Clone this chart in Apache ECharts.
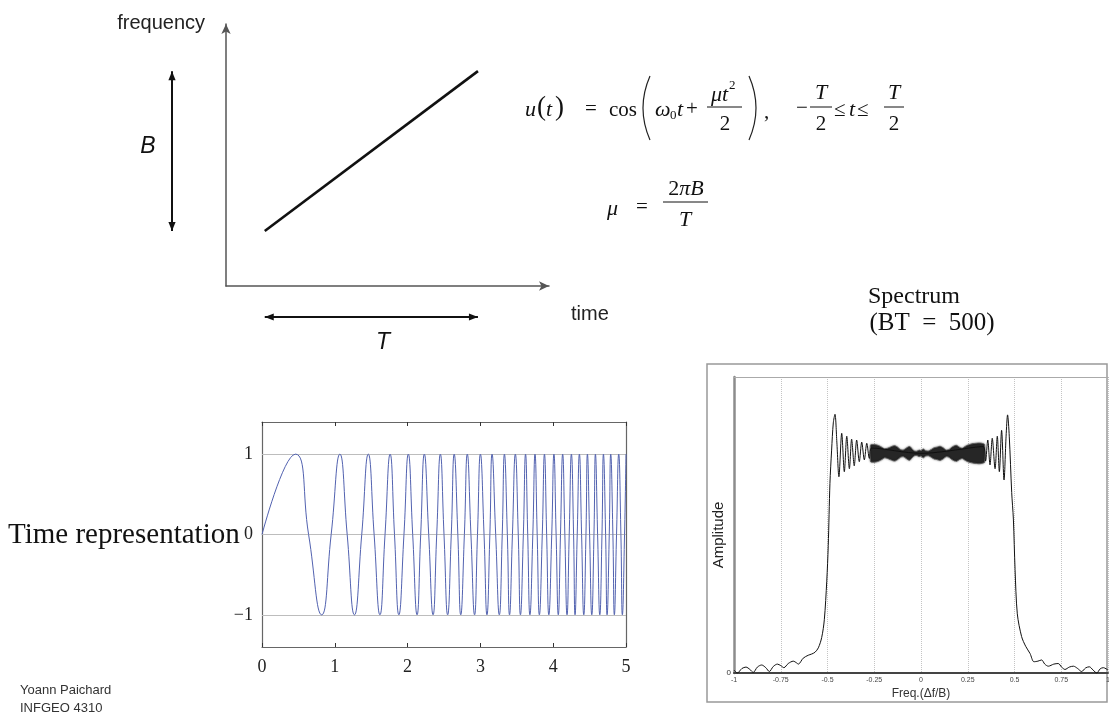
<!DOCTYPE html>
<html>
<head>
<meta charset="utf-8">
<title>Linear chirp</title>
<script src="https://cdn.jsdelivr.net/npm/echarts@6/dist/echarts.min.js"></script>
<style>
html, body { margin: 0; padding: 0; background: #fff; }
#chart { width: 1109px; height: 718px; }
</style>
</head>
<body>
<div id="chart"></div>
<script>
// sketch: frequency rising linearly over the pulse
const sweepTime = [1.2, 7.8];
const sweepFreq = [2.1, 8.2];

// time representation: extrema and zero crossings of the chirp
const chirpTime = [0, 0.46, 0.64, 0.82, 0.95, 1.07, 1.17, 1.27, 1.37, 1.46, 1.54,
  1.62, 1.69, 1.76, 1.82, 1.88, 1.95, 2.01, 2.07, 2.13, 2.18,
  2.23, 2.29, 2.35, 2.40, 2.45, 2.50, 2.55, 2.60, 2.64, 2.69,
  2.73, 2.78, 2.82, 2.87, 2.92, 2.96, 3.00, 3.05, 3.09, 3.13,
  3.16, 3.21, 3.26, 3.30, 3.33, 3.37, 3.40, 3.44, 3.48, 3.52,
  3.55, 3.59, 3.62, 3.65, 3.68, 3.72, 3.75, 3.78, 3.81, 3.85,
  3.88, 3.91, 3.94, 3.98, 4.01, 4.04, 4.07, 4.10, 4.13, 4.16,
  4.19, 4.22, 4.25, 4.28, 4.30, 4.33, 4.36, 4.39, 4.42, 4.45,
  4.47, 4.50, 4.53, 4.56, 4.58, 4.61, 4.64, 4.67, 4.69, 4.72,
  4.74, 4.77, 4.79, 4.82, 4.84, 4.87, 4.90, 4.93, 4.95, 4.98, 5.00];
const chirpValue = [0, 1, 0, -1, 0, 1, 0, -1, 0, 1, 0,
  -1, 0, 1, 0, -1, 0, 1, 0, -1, 0,
  1, 0, -1, 0, 1, 0, -1, 0, 1, 0,
  -1, 0, 1, 0, -1, 0, 1, 0, -1, 0,
  1, 0, -1, 0, 1, 0, -1, 0, 1, 0,
  -1, 0, 1, 0, -1, 0, 1, 0, -1, 0,
  1, 0, -1, 0, 1, 0, -1, 0, 1, 0,
  -1, 0, 1, 0, -1, 0, 1, 0, -1, 0,
  1, 0, -1, 0, 1, 0, -1, 0, 1, 0,
  -1, 0, 1, 0, -1, 0, 1, 0, -1, 0, 1];
const chirpTicks = [-1, 0, 1];

// spectrum (BT = 500)
const specFreq = [-1, -0.982, -0.958, -0.936, -0.915, -0.897, -0.875, -0.852, -0.83, -0.811,
  -0.79, -0.768, -0.75, -0.733, -0.71, -0.683, -0.665, -0.656, -0.63, -0.603,
  -0.585, -0.567, -0.549, -0.531, -0.517, -0.504, -0.496, -0.487, -0.478, -0.469,
  -0.46, -0.45, -0.439, -0.424, -0.41, -0.397, -0.383, -0.371, -0.357, -0.344,
  -0.33, -0.317, -0.303, -0.29, -0.276, -0.264, 0, 0.333, 0.345, 0.357,
  0.369, 0.381, 0.396, 0.408, 0.419, 0.431, 0.444, 0.455, 0.463, 0.472,
  0.485, 0.494, 0.503, 0.515, 0.538, 0.56, 0.583, 0.604, 0.625, 0.645,
  0.662, 0.681, 0.71, 0.734, 0.752, 0.77, 0.793, 0.815, 0.838, 0.859,
  0.88, 0.9, 0.92, 0.94, 0.958, 0.975, 1];
const specAmp = [0.01, 0, 0.015, 0.02, 0.012, 0.002, 0.02, 0.027, 0.018, 0.005,
  0.022, 0.03, 0.025, 0.018, 0.032, 0.04, 0.034, 0.03, 0.05, 0.06,
  0.064, 0.07, 0.085, 0.12, 0.18, 0.31, 0.43, 0.64, 0.753, 0.845,
  0.874, 0.78, 0.663, 0.81, 0.68, 0.80, 0.69, 0.79, 0.70, 0.787,
  0.714, 0.78, 0.72, 0.776, 0.725, 0.76, 0.742, 0.765, 0.716, 0.787,
  0.703, 0.793, 0.69, 0.80, 0.68, 0.82, 0.652, 0.80, 0.872, 0.80,
  0.61, 0.52, 0.35, 0.20, 0.123, 0.09, 0.066, 0.038, 0.04, 0.044,
  0.03, 0.023, 0.03, 0.032, 0.02, 0.012, 0.02, 0.023, 0.015, 0.005,
  0.017, 0.021, 0.01, 0, 0.014, 0.018, 0.01];
// dense ripple in the pass band: upper / lower envelope
const bandFreq = [-0.27, -0.255, -0.24, -0.225, -0.21, -0.195, -0.18, -0.165, -0.15, -0.139,
  -0.125, -0.11, -0.095, -0.08, -0.068, -0.059, -0.048, -0.035, -0.022, -0.01,
  0, 0.012, 0.025, 0.04, 0.055, 0.07, 0.085, 0.102, 0.118, 0.135,
  0.15, 0.165, 0.18, 0.191, 0.205, 0.22, 0.235, 0.25, 0.265, 0.28,
  0.295, 0.31, 0.325, 0.34];
const bandTop = [0.770, 0.772, 0.771, 0.768, 0.763, 0.757, 0.759, 0.763, 0.767, 0.768,
  0.763, 0.755, 0.753, 0.759, 0.764, 0.765, 0.757, 0.750, 0.749, 0.753,
  0.751, 0.757, 0.751, 0.750, 0.755, 0.761, 0.763, 0.766, 0.761, 0.753,
  0.755, 0.763, 0.768, 0.769, 0.763, 0.759, 0.765, 0.770, 0.773, 0.775,
  0.776, 0.777, 0.776, 0.772];
const bandBottom = [0.714, 0.712, 0.713, 0.716, 0.721, 0.727, 0.725, 0.721, 0.717, 0.716,
  0.721, 0.729, 0.731, 0.725, 0.720, 0.719, 0.727, 0.734, 0.735, 0.731,
  0.733, 0.727, 0.733, 0.734, 0.729, 0.723, 0.721, 0.718, 0.723, 0.731,
  0.729, 0.721, 0.716, 0.715, 0.721, 0.725, 0.719, 0.714, 0.711, 0.709,
  0.708, 0.707, 0.708, 0.712];

const SERIF = 'Liberation Serif';
const SANS = 'Liberation Sans';

const chart = echarts.init(document.getElementById('chart'));

const chirpAxisX = {
  type: 'value', gridIndex: 1, min: 0, max: 5, interval: 1,
  axisLine: { onZero: false, lineStyle: { color: '#666', width: 1.2 } },
  axisTick: { inside: true, length: 4, lineStyle: { color: '#333' } },
  splitLine: { show: false }
};
const chirpAxisY = {
  type: 'value', gridIndex: 1, min: -1.4, max: 1.4,
  axisLine: { show: true, onZero: false, lineStyle: { color: '#666', width: 1.2 } },
  axisTick: { show: true, inside: true, length: 4, customValues: chirpTicks, lineStyle: { color: '#333' } },
  splitLine: { show: false }
};

chart.setOption({
  animation: false,
  backgroundColor: '#fff',
  textStyle: { fontFamily: SANS },
  grid: [
    { left: 226, top: 24, width: 323, height: 262, outerBoundsMode: 'none' },
    { left: 262, top: 422, width: 364, height: 225, outerBoundsMode: 'none' },
    { left: 734, top: 377, width: 374, height: 296, outerBoundsMode: 'none' }
  ],
  xAxis: [
    {
      type: 'value', gridIndex: 0, min: 0, max: 10,
      axisLine: { symbol: ['none', 'arrow'], symbolSize: [7, 10], lineStyle: { color: '#555', width: 1.5 } },
      axisTick: { show: false }, axisLabel: { show: false }, splitLine: { show: false }
    },
    Object.assign({}, chirpAxisX, {
      position: 'bottom',
      axisLabel: {
        fontFamily: SERIF, fontSize: 18, color: '#222', margin: 11,
        alignMinLabel: 'center', alignMaxLabel: 'center'
      }
    }),
    Object.assign({}, chirpAxisX, { position: 'top', axisLabel: { show: false } }),
    {
      type: 'value', gridIndex: 2, min: -1, max: 1, interval: 0.25,
      name: 'Freq.(\u0394f/B)', nameLocation: 'middle', nameGap: 15,
      nameTextStyle: { fontFamily: SANS, fontSize: 12, color: '#333' },
      axisLine: { onZero: false, lineStyle: { color: '#444', width: 2 } },
      axisTick: { show: false },
      axisLabel: { fontSize: 7, color: '#444', margin: 4, alignMinLabel: 'center', alignMaxLabel: 'center' },
      splitLine: { show: true, lineStyle: { color: '#c4c4c4', type: 'dotted', width: 1 } }
    },
    {
      type: 'value', gridIndex: 2, min: -1, max: 1, position: 'top',
      axisLine: { onZero: false, lineStyle: { color: '#aaa', width: 1 } },
      axisTick: { show: false }, axisLabel: { show: false }, splitLine: { show: false }
    }
  ],
  yAxis: [
    {
      type: 'value', gridIndex: 0, min: 0, max: 10,
      axisLine: { show: true, symbol: ['none', 'arrow'], symbolSize: [7, 10], lineStyle: { color: '#555', width: 1.5 } },
      axisTick: { show: false }, axisLabel: { show: false }, splitLine: { show: false }
    },
    Object.assign({}, chirpAxisY, {
      position: 'left',
      axisLabel: {
        customValues: chirpTicks, fontFamily: SERIF, fontSize: 18, color: '#222', margin: 9,
        formatter: function (v) { return v < 0 ? '\u2212' + (-v) : String(v); }
      }
    }),
    Object.assign({}, chirpAxisY, { position: 'right', axisLabel: { show: false } }),
    {
      type: 'value', gridIndex: 2, min: 0, max: 1, interval: 1,
      axisLine: { show: true, onZero: false, lineStyle: { color: '#8c8c8c', width: 2.5 } },
      axisTick: { show: false },
      axisLabel: { fontSize: 8, color: '#333', margin: 3, formatter: function (v) { return v === 0 ? '0' : ''; } },
      splitLine: { show: false }
    }
  ],
  series: [
    {
      type: 'line', xAxisIndex: 0, yAxisIndex: 0, symbol: 'none',
      lineStyle: { color: '#111', width: 2.6 },
      data: sweepTime.map(function (t, i) { return [t, sweepFreq[i]]; })
    },
    {
      type: 'line', xAxisIndex: 1, yAxisIndex: 1, symbol: 'none', z: 3,
      smooth: 0.5,
      lineStyle: { color: '#5262b0', width: 1 },
      data: chirpTime.map(function (t, i) { return [t, chirpValue[i]]; }),
      markLine: {
        silent: true, symbol: 'none', z: 1, label: { show: false },
        lineStyle: { color: '#bdbdbd', type: 'solid', width: 1 },
        data: chirpTicks.map(function (v) { return { yAxis: v }; })
      }
    },
    {
      type: 'line', xAxisIndex: 3, yAxisIndex: 3, symbol: 'none', smooth: 0.3,
      lineStyle: { color: '#111', width: 1 },
      data: specFreq.map(function (f, i) { return [f, specAmp[i]]; })
    },
    {
      type: 'custom', xAxisIndex: 3, yAxisIndex: 3, z: 3,
      data: bandFreq.map(function (f, i) { return [f, bandTop[i], bandBottom[i]]; }),
      encode: { x: 0, y: 1 },
      renderItem: function (params, api) {
        if (params.dataIndex !== 0) return null;
        const pts = [];
        for (let i = 0; i < bandFreq.length; i++) pts.push(api.coord([bandFreq[i], bandTop[i]]));
        for (let j = bandFreq.length - 1; j >= 0; j--) pts.push(api.coord([bandFreq[j], bandBottom[j]]));
        return {
          type: 'polygon',
          shape: { points: pts, smooth: 0.2 },
          style: { fill: '#262626', stroke: '#666', lineWidth: 0.8, shadowBlur: 2, shadowColor: 'rgba(0,0,0,0.5)' }
        };
      }
    }
  ]
});

function text(s, x, y, size, opt) {
  opt = opt || {};
  return {
    type: 'text', x: x, y: y, rotation: opt.rotation || 0,
    style: {
      text: s, fontSize: size, fontFamily: opt.family || SERIF,
      fontStyle: opt.italic ? 'italic' : 'normal',
      fill: opt.color || '#111', align: opt.align || 'left', verticalAlign: 'middle',
      rich: opt.rich
    }
  };
}
function seg(x1, y1, x2, y2, w) {
  return { type: 'line', shape: { x1: x1, y1: y1, x2: x2, y2: y2 }, style: { stroke: '#111', lineWidth: w || 1 } };
}
function paren(x1, y1, cx, x2, y2) {
  return {
    type: 'bezierCurve',
    shape: { x1: x1, y1: y1, x2: x2, y2: y2, cpx1: cx, cpy1: (y1 + y2) / 2 },
    style: { stroke: '#222', lineWidth: 1.2, fill: null }
  };
}
function head(x, y, a) {
  const L = 9, W = 3.6;
  return [[x, y],
    [x - L * Math.cos(a) + W * Math.sin(a), y - L * Math.sin(a) - W * Math.cos(a)],
    [x - L * Math.cos(a) - W * Math.sin(a), y - L * Math.sin(a) + W * Math.cos(a)]];
}
function arrow(x1, y1, x2, y2) {
  const a = Math.atan2(y2 - y1, x2 - x1);
  return [
    seg(x1, y1, x2, y2, 2),
    { type: 'polygon', shape: { points: head(x2, y2, a) }, style: { fill: '#111' } },
    { type: 'polygon', shape: { points: head(x1, y1, a + Math.PI) }, style: { fill: '#111' } }
  ];
}

// B and T brackets follow the sweep's ends
const p0 = chart.convertToPixel({ xAxisIndex: 0, yAxisIndex: 0 }, [sweepTime[0], sweepFreq[0]]);
const p1 = chart.convertToPixel({ xAxisIndex: 0, yAxisIndex: 0 }, [sweepTime[1], sweepFreq[1]]);

let g = [];
g = g.concat(arrow(172, p0[1], 172, p1[1]));
g = g.concat(arrow(p0[0], 317, p1[0], 317));
g.push(text('B', 148, 147, 23, { family: SANS, italic: true, align: 'center' }));
g.push(text('T', 383, 343, 23, { family: SANS, italic: true, align: 'center' }));
g.push(text('frequency', 205, 23, 20, { family: SANS, align: 'right', color: '#222' }));
g.push(text('time', 571, 314, 20, { family: SANS, color: '#222' }));

// u(t) = cos( w0 t + mu t^2 / 2 ),  -T/2 <= t <= T/2
g.push(text('u', 525, 110, 22, { italic: true }));
g.push(text('(', 537, 108, 27));
g.push(text('t', 546, 110, 22, { italic: true }));
g.push(text(')', 555, 108, 27));
g.push(text('=', 585, 109, 21));
g.push(text('cos', 609, 110, 21));
g.push(paren(650, 76, 636, 650, 140));
g.push(text('\u03c9', 655, 110, 22, { italic: true }));
g.push(text('0', 670, 116, 13));
g.push(text('t', 677, 110, 22, { italic: true }));
g.push(text('+', 686, 109, 21));
g.push(text('\u03bct', 711, 95, 22, { italic: true }));
g.push(text('2', 729, 86, 13));
g.push(seg(707, 107, 742, 107, 1));
g.push(text('2', 725, 124, 21, { align: 'center' }));
g.push(paren(749, 76, 763, 749, 140));
g.push(text(',', 764, 112, 21));
g.push(text('\u2212', 796, 108, 21));
g.push(text('T', 821, 93, 22, { italic: true, align: 'center' }));
g.push(seg(810, 107, 832, 107, 1));
g.push(text('2', 821, 124, 21, { align: 'center' }));
g.push(text('\u2264', 834, 110, 21));
g.push(text('t', 849, 110, 22, { italic: true }));
g.push(text('\u2264', 857, 110, 21));
g.push(text('T', 894, 93, 22, { italic: true, align: 'center' }));
g.push(seg(884, 107, 904, 107, 1));
g.push(text('2', 894, 124, 21, { align: 'center' }));

// mu = 2 pi B / T
g.push(text('\u03bc', 607, 209, 22, { italic: true }));
g.push(text('=', 636, 207, 21));
g.push(text('{n|2}{i|\u03c0B}', 686, 189, 22, {
  align: 'center',
  rich: { n: { fontFamily: SERIF, fontSize: 22 }, i: { fontFamily: SERIF, fontSize: 22, fontStyle: 'italic' } }
}));
g.push(seg(663, 202, 708, 202, 1));
g.push(text('T', 685, 220, 22, { italic: true, align: 'center' }));

// captions
g.push(text('Time representation', 8, 535, 29, { color: '#111' }));
g.push(text('Spectrum', 914, 297, 24, { align: 'center' }));
g.push(text('(BT\u00a0\u00a0=\u00a0\u00a0500)', 932, 323, 25, { align: 'center' }));
g.push(text('Yoann Paichard', 20, 690, 13, { family: SANS, color: '#333' }));
g.push(text('INFGEO 4310', 20, 708, 13, { family: SANS, color: '#333' }));

// spectrum frame and y name
g.push({ type: 'rect', shape: { x: 707, y: 364, width: 400, height: 338 }, style: { fill: null, stroke: '#999', lineWidth: 1.5 } });
g.push(text('Amplitude', 719, 535, 15, { family: SANS, align: 'center', rotation: Math.PI / 2, color: '#222' }));

chart.setOption({ graphic: g });
</script>
</body>
</html>
